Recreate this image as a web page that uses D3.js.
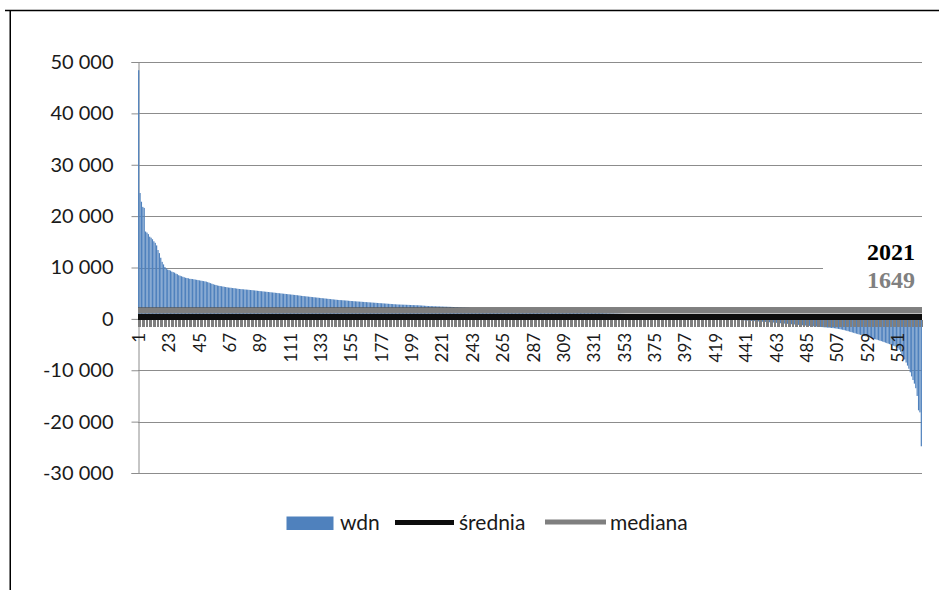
<!DOCTYPE html>
<html>
<head>
<meta charset="utf-8">
<script src="https://cdn.jsdelivr.net/npm/d3@7"></script>
<style>
  html, body { margin: 0; padding: 0; background: #fff; }
  svg { display: block; }
</style>
</head>
<body>
<svg id="chart" width="939" height="590"></svg>
<script>
// wdn per unit, sorted from highest to lowest
const wdn = [
  48400, 24500, 22800, 21800, 21600, 17000, 16800, 16500, 16000, 15800,
  15500, 15100, 14800, 14300, 13400, 12800, 11900, 11100, 10600, 10100,
  9800, 9600, 9500, 9400, 9200, 9100, 9000, 8800, 8700, 8500,
  8400, 8300, 8200, 8100, 8000, 7950, 7900, 7800, 7780, 7750,
  7700, 7650, 7600, 7550, 7500, 7450, 7400, 7350, 7300, 7250,
  7150, 7050, 6950, 6850, 6750, 6650, 6600, 6500, 6450, 6400,
  6350, 6300, 6250, 6200, 6150, 6100, 6080, 6050, 6000, 5980,
  5950, 5900, 5850, 5820, 5800, 5780, 5750, 5720, 5700, 5680,
  5650, 5620,
  5600, 5570, 5540, 5500, 5470, 5440, 5410, 5380, 5350, 5320,
  5290, 5260, 5230, 5200, 5170, 5140, 5110, 5080, 5050, 5020,
  4990, 4960, 4930, 4900, 4870, 4840, 4810, 4780, 4750, 4720,
  4690, 4660, 4630, 4600, 4560, 4520,
  4480, 4450, 4420, 4390, 4360, 4330, 4300, 4270, 4240, 4210,
  4180, 4150, 4120, 4090, 4060, 4030, 4000, 3970, 3940, 3910,
  3880, 3850, 3820, 3790, 3760, 3730, 3700, 3680, 3660, 3640,
  3620, 3600, 3580, 3560, 3530, 3500,
  3480, 3460, 3440, 3420, 3400, 3380, 3360, 3340, 3320, 3300,
  3280, 3260, 3240, 3220, 3200, 3180, 3160, 3140, 3120, 3100,
  3080, 3060, 3040, 3020, 3000, 2980, 2960, 2940, 2920, 2900,
  2880, 2860, 2840, 2820, 2800, 2790, 2780, 2770, 2760, 2750,
  2740, 2730, 2720, 2700,
  2690, 2680, 2670, 2660, 2650, 2640, 2620, 2600, 2580, 2560,
  2540, 2520, 2500, 2490, 2480, 2470, 2460, 2450, 2440, 2430,
  2420, 2410, 2400, 2390, 2380, 2370, 2360, 2350, 2340, 2330,
  2310, 2290, 2270, 2250, 2230, 2210, 2200, 2190, 2180, 2170,
  2160, 2150, 2130, 2110, 2100,
  2090, 2080, 2070, 2060, 2050, 2040, 2030, 2020, 2010, 2000,
  1990, 1980, 1970, 1960, 1950, 1940, 1930, 1920, 1910, 1900,
  1890, 1870, 1850, 1830, 1810, 1800, 1790, 1780, 1770, 1760,
  1750, 1740, 1730, 1720, 1710, 1700, 1690, 1680, 1670, 1660,
  1655,
  1643, 1635, 1625, 1615, 1605, 1595, 1585, 1575, 1565, 1555,
  1545, 1535, 1525, 1515, 1505, 1495,
  1485, 1475, 1465, 1455, 1445, 1435, 1425, 1415, 1405, 1395,
  1385, 1375, 1365, 1355, 1345, 1335, 1325, 1315, 1305, 1295,
  1285, 1275, 1265, 1255, 1245, 1235, 1225, 1215, 1205, 1195,
  1185, 1175, 1165, 1155, 1145, 1135, 1125, 1115, 1105, 1095,
  1085, 1075, 1065, 1055, 1045, 1035, 1025, 1015, 1005, 995,
  985, 975, 965, 955, 945, 935, 925, 915, 905, 895,
  885, 875, 865, 855, 845, 835, 825, 815, 805, 795,
  785, 775, 765, 755, 745, 735, 725, 715, 705, 695,
  680, 665, 650, 635, 620, 605, 590, 575, 560, 545,
  530, 515, 500, 485, 470, 455, 440, 425, 410, 395,
  380, 365, 350, 335, 320, 305, 290, 275, 260, 245,
  230, 215, 200, 185, 170, 155, 140, 125, 110, 95,
  80, 60, 40, 20, 0, -20, -40, -60, -80, -100,
  -120, -140, -160, -180, -200, -220, -240, -260, -280, -300,
  -320, -340, -360, -380, -400, -420, -440, -460, -480, -500,
  -520, -540, -560, -580, -600, -620, -640, -660, -680, -700,
  -720, -745, -770, -795, -820, -845, -870, -895, -920, -945,
  -970, -995, -1020, -1045, -1070, -1095, -1120, -1145, -1170, -1195,
  -1220, -1245, -1270, -1295, -1320, -1345, -1370, -1395, -1420, -1445,
  -1470, -1495, -1520, -1545, -1570, -1595, -1620, -1645, -1670, -1695,
  -1720, -1745, -1770, -1795, -1820,
  -1860, -1900, -1950, -2000, -2060, -2120, -2180, -2250, -2320, -2400,
  -2480, -2560, -2640, -2720, -2800, -2880, -2960, -3040, -3120, -3200,
  -3280, -3350, -3420,
  -3500, -3580, -3660, -3740, -3820, -3900, -3980, -4060, -4150, -4240,
  -4330, -4420,
  -4520, -4620, -4720, -4820, -4920, -5020, -5120, -5220, -5350, -5500,
  -5700, -6000, -6400, -6900, -7400, -7900, -8500, -9100, -9700, -10400,
  -11200, -11900, -12600, -13500, -15000, -17800, -18200, -24800
];

// category numbers 1..n
const categories = wdn.map((_, i) => i + 1);

// reference levels
const srednia = [2021];
const mediana = [1649];

// axis ticks
const yTicks = [-30000, -20000, -10000, 0, 10000, 20000, 30000, 40000, 50000];
const xTickEvery = 22;

// legend entries
const legendNames = ["wdn", "średnia", "mediana"];

const colors = { wdn: "#4F81BD", srednia: "#0D0D0D", mediana: "#7F7F7F", grid: "#8C8C8C" };
const sans = "Lato, 'Open Sans', sans-serif";
const serif = "'Liberation Serif', 'Times New Roman', serif";

const svg = d3.select("#chart");

const plot = { left: 138, right: 922, top: 62, bottom: 473 };

const x = d3.scaleBand()
  .domain(categories)
  .range([plot.left, plot.right])
  .paddingInner(0.12)
  .paddingOuter(0.05);

const y = d3.scaleLinear()
  .domain([d3.min(yTicks), d3.max(yTicks)])
  .range([plot.bottom, plot.top]);

// "50 000", "-10 000"
const fmt = v => d3.format(",")(v).replace(/,/g, " ").replace("\u2212", "-");

// outer frame
svg.append("line").attr("x1", 5).attr("x2", 939).attr("y1", 10.5).attr("y2", 10.5)
  .attr("stroke", "#000").attr("stroke-width", 1.5);
svg.append("line").attr("x1", 10.25).attr("x2", 10.25).attr("y1", 10).attr("y2", 590)
  .attr("stroke", "#000").attr("stroke-width", 1.5);

// horizontal gridlines
svg.append("g").selectAll("line").data(yTicks.filter(d => d !== 0)).join("line")
  .attr("x1", plot.left).attr("x2", plot.right)
  .attr("y1", d => Math.round(y(d)) + 0.5).attr("y2", d => Math.round(y(d)) + 0.5)
  .attr("stroke", colors.grid).attr("stroke-width", 1);

// y axis
const yAxis = svg.append("g")
  .attr("transform", `translate(${plot.left + 0.5},0)`)
  .call(d3.axisLeft(y).tickValues(yTicks).tickSize(7).tickPadding(18).tickFormat(fmt));
yAxis.select(".domain").attr("stroke", colors.grid);
yAxis.selectAll(".tick line").attr("stroke", colors.grid);
yAxis.selectAll(".tick text")
  .style("font-family", sans).style("font-size", "20px").attr("fill", "#1a1a1a");

// bars
svg.append("g").selectAll("rect").data(wdn).join("rect")
  .attr("x", (d, i) => x(categories[i]))
  .attr("width", x.bandwidth())
  .attr("y", d => y(Math.max(0, d)))
  .attr("height", d => Math.abs(y(d) - y(0)))
  .attr("fill", colors.wdn);

// mean and median lines
const lineGen = v => d3.line()([[plot.left, y(v)], [plot.right, y(v)]]);
svg.append("path").attr("d", lineGen(srednia[0]))
  .attr("stroke", colors.srednia).attr("stroke-width", 2).attr("fill", "none");
svg.append("path").attr("d", lineGen(mediana[0]))
  .attr("stroke", colors.mediana).attr("stroke-width", 6).attr("fill", "none");

// category axis: heavy baseline and a tick at every category
const xAxis = svg.append("g")
  .attr("transform", `translate(0,${y(0)})`)
  .call(d3.axisBottom(x)
    .tickValues(categories.filter(c => (c - 1) % xTickEvery === 0))
    .tickSize(0));
xAxis.select(".domain").remove();
xAxis.selectAll(".tick text")
  .attr("transform", "rotate(-90)")
  .attr("text-anchor", "end")
  .attr("x", -14).attr("y", 0).attr("dy", "0.36em")
  .style("font-family", sans).style("font-size", "17px").attr("fill", "#1a1a1a");

svg.append("line")
  .attr("x1", plot.left).attr("x2", plot.right)
  .attr("y1", y(0) - 2).attr("y2", y(0) - 2)
  .attr("stroke", colors.srednia).attr("stroke-width", 6);

const step = x.step();
svg.append("g").selectAll("line").data(d3.range(categories.length + 1)).join("line")
  .attr("x1", i => plot.left + i * step).attr("x2", i => plot.left + i * step)
  .attr("y1", y(0) + 1).attr("y2", y(0) + 8)
  .attr("stroke", colors.mediana).attr("stroke-width", 1)
  .attr("shape-rendering", "crispEdges");

// value box with mean / median figures
const box = svg.append("g");
box.append("rect").attr("x", 823).attr("y", 236).attr("width", 100).attr("height", 62).attr("fill", "#fff");
box.append("text").attr("x", 915).attr("y", 260).attr("text-anchor", "end")
  .style("font-family", serif).style("font-weight", "bold").style("font-size", "24px")
  .attr("fill", "#000").text(srednia[0]);
box.append("text").attr("x", 915).attr("y", 288).attr("text-anchor", "end")
  .style("font-family", serif).style("font-weight", "bold").style("font-size", "24px")
  .attr("fill", "#808080").text(mediana[0]);

// legend
const legend = svg.append("g").style("font-family", sans).style("font-size", "21px").attr("fill", "#1a1a1a");
legend.append("rect").attr("x", 286.5).attr("y", 516.5).attr("width", 47).attr("height", 13.5).attr("fill", colors.wdn);
legend.append("text").attr("x", 340).attr("y", 530).text(legendNames[0]);
legend.append("line").attr("x1", 395).attr("x2", 454).attr("y1", 522.5).attr("y2", 522.5)
  .attr("stroke", colors.srednia).attr("stroke-width", 5);
legend.append("text").attr("x", 459).attr("y", 530).text(legendNames[1]);
legend.append("line").attr("x1", 545).attr("x2", 606).attr("y1", 522).attr("y2", 522)
  .attr("stroke", colors.mediana).attr("stroke-width", 5);
legend.append("text").attr("x", 610).attr("y", 530).text(legendNames[2]);
</script>
</body>
</html>
